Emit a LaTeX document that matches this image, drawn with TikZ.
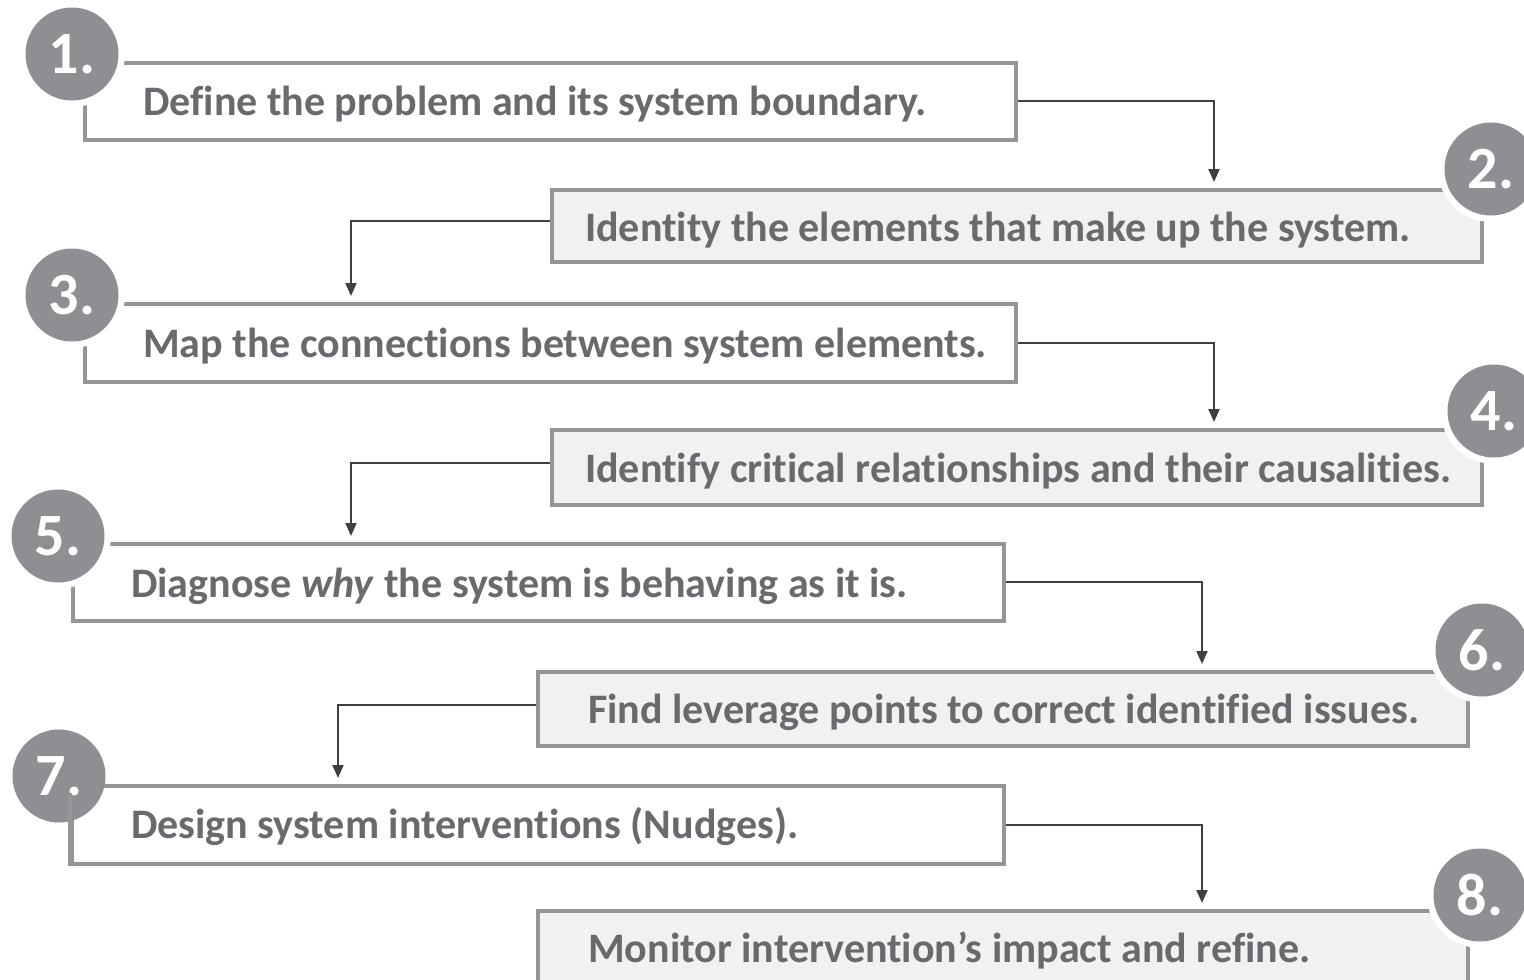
\documentclass[tikz,border=0pt]{standalone}
\usepackage{fontspec}
\setmainfont{Carlito}[RawFeature={-liga}]
\usetikzlibrary{arrows.meta}

\definecolor{edgegray}{HTML}{959595}
\definecolor{boxfill}{HTML}{F1F1F1}
\definecolor{badgegray}{HTML}{8E8E93}
\definecolor{inkgray}{HTML}{69696E}
\definecolor{linkgray}{HTML}{3F3F3F}

\tikzset{
  stepbox/.style={draw=edgegray, line width=3.5pt, rectangle, inner sep=0pt,
    anchor=north west},
  plainbox/.style={stepbox, fill=white},
  shadedbox/.style={stepbox, fill=boxfill},
  steptext/.style={anchor=base west, inner sep=0pt, text=inkgray,
    font=\fontsize{42}{48}\selectfont\bfseries},
  badgebase/.style={circle, fill=badgegray, minimum size=93pt, inner sep=0pt,
    text=white, font=\fontsize{60}{66}\selectfont\bfseries},
  badge/.style={badgebase, preaction={draw=white, line width=13pt}},
  flatbadge/.style={badgebase},
  link/.style={draw=linkgray, line width=2pt,
    -{Triangle[length=13pt,width=11pt]}, shorten >=6pt},
}

\begin{document}
\begin{tikzpicture}[x=1pt, y=-1pt]
  \useasboundingbox (0,0) rectangle (1524,980);
  \clip (0,0) rectangle (1524,980);

  % step boxes
  \node[plainbox,  minimum width=931pt, minimum height=77pt]  (b1) at (83,61)  {};
  \node[shadedbox, minimum width=930pt, minimum height=72pt]  (b2) at (550,188) {};
  \node[plainbox,  minimum width=931pt, minimum height=78pt]  (b3) at (83,302) {};
  \node[shadedbox, minimum width=930pt, minimum height=75pt]  (b4) at (550,428) {};
  \node[plainbox,  minimum width=931pt, minimum height=77pt]  (b5) at (71,542) {};
  \node[shadedbox, minimum width=930pt, minimum height=74pt]  (b6) at (536,670) {};
  \node[plainbox,  minimum width=932pt, minimum height=78pt]  (b7) at (70,784) {};
  \node[shadedbox, minimum width=930pt, minimum height=110pt] (b8) at (536,909) {};

  % step texts
  \node[steptext] (t1) at (143,115) {Define the problem and its system boundary.};
  \node[steptext] (t2) at (585,241) {Identity the elements that make up the system.};
  \node[steptext] (t3) at (143,357) {Map the connections between system elements.};
  \node[steptext] (t4) at (585,482) {Identify critical relationships and their causalities.};
  \node[steptext] (t5) at (131,597) {Diagnose \textit{why} the system is behaving as it is.};
  \node[steptext] (t6) at (588,723) {Find leverage points to correct identified issues.};
  \node[steptext] (t7) at (131,838) {Design system interventions (Nudges).};
  \node[steptext] (t8) at (588,962) {Monitor intervention’s impact and refine.};

  % number badges
  \node[badge] (c1) at (72,54)   {1.};
  \node[badge] (c2) at (1491,169) {2.};
  \node[badge] (c3) at (72,295)  {3.};
  \node[badge] (c4) at (1494,411) {4.};
  \node[badge] (c5) at (58,536)  {5.};
  \node[badge] (c6) at (1482,650) {6.};
  \node[flatbadge] (c7) at (59,776) {7.};
  \node[badge] (c8) at (1480,895) {8.};
  % left edge of box 7 runs across its badge
  \draw[edgegray, line width=3.5pt] ([yshift=-9pt]b7.north west) -- (b7.south west);

  % connectors between consecutive steps
  \draw[link] (b1.east) -| ([xshift=664pt]b2.north west);
  \draw[link] ([yshift=5pt]b2.west) -| ([xshift=268pt]b3.north west);
  \draw[link] (b3.east) -| ([xshift=664pt]b4.north west);
  \draw[link] ([yshift=4pt]b4.west) -| ([xshift=280pt]b5.north west);
  \draw[link] (b5.east) -| ([xshift=666pt]b6.north west);
  \draw[link] ([yshift=4pt]b6.west) -| ([xshift=268pt]b7.north west);
  \draw[link] (b7.east) -| ([xshift=666pt]b8.north west);
\end{tikzpicture}
\end{document}
